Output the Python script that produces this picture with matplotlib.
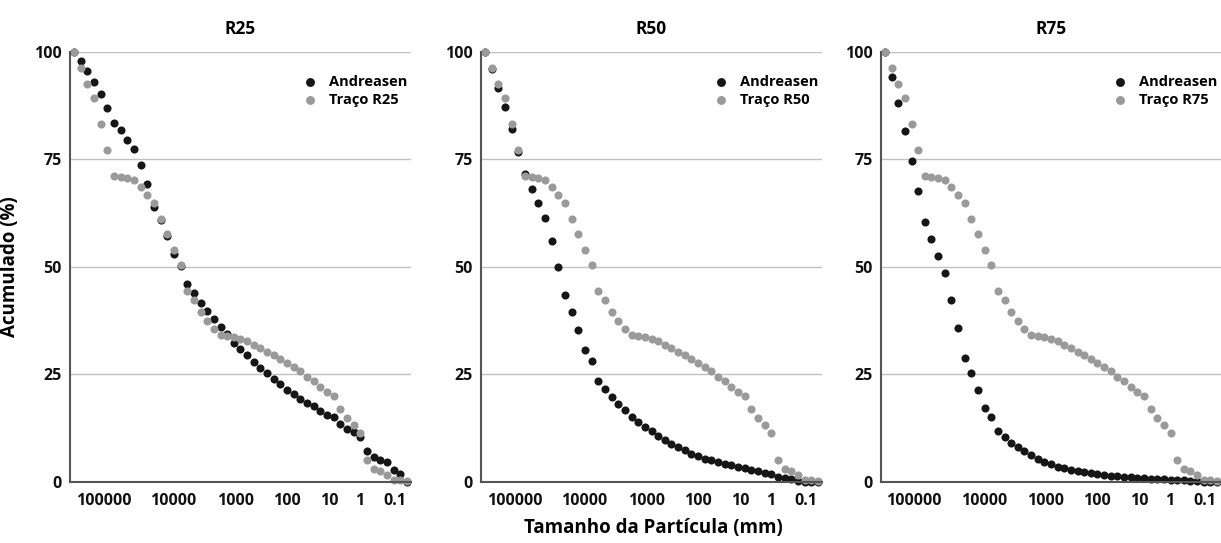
import matplotlib
matplotlib.use("Agg")
import matplotlib.pyplot as plt
import numpy as np

plt.rcParams['font.family'] = ['Open Sans', 'DejaVu Sans']
plt.rcParams['font.weight'] = 'bold'

# ---------------- data ----------------
panel_titles = ["R25", "R50", "R75"]
series_traco_labels = ["Traço R25", "Traço R50", "Traço R75"]
x_tick_labels = ["100000", "10000", "1000", "100", "10", "1", "0.1"]
y_ticks = [0, 25, 50, 75, 100]

andreasen_r25 = [100, 97.8, 95.5, 92.9, 90.2, 87.0, 83.5, 81.7, 79.5, 77.3,
                 73.6, 69.2, 63.9, 60.9, 57.2, 52.9, 50.3, 46.0, 43.9, 41.7,
                 39.8, 37.8, 36.0, 34.4, 32.4, 31.0, 29.4, 27.9, 26.6, 25.3,
                 23.9, 22.7, 21.4, 20.4, 19.3, 18.3, 17.6, 16.4, 15.6, 15.1,
                 13.5, 12.4, 11.6, 10.4, 7.1, 5.8, 5.2, 4.6, 2.9, 1.9, 0.0]

andreasen_r50 = [100, 95.9, 91.6, 87.1, 82.0, 76.7, 71.5, 68.0, 64.8, 61.3,
                 55.9, 50.0, 43.4, 39.6, 35.4, 30.7, 28.2, 23.4, 21.6, 19.7,
                 18.2, 16.8, 15.2, 13.9, 12.8, 11.8, 10.6, 9.7, 8.8, 8.1,
                 7.4, 6.6, 6.0, 5.4, 5.0, 4.6, 4.2, 3.9, 3.5, 3.3,
                 2.9, 2.6, 2.2, 1.9, 1.2, 0.9, 0.7, 0.15, 0.05, 0.0, 0.0]

andreasen_r75 = [100, 94.2, 88.0, 81.6, 74.7, 67.6, 60.4, 56.5, 52.6, 48.5,
                 42.3, 35.8, 28.8, 25.3, 21.3, 17.2, 15.2, 11.8, 10.4, 9.1,
                 8.1, 7.1, 6.2, 5.4, 4.6, 4.2, 3.6, 3.3, 2.9, 2.6,
                 2.3, 2.1, 1.9, 1.6, 1.5, 1.3, 1.2, 1.1, 0.9, 0.85,
                 0.8, 0.7, 0.6, 0.5, 0.45, 0.4, 0.3, 0.2, 0.1, 0.05, 0.0]

traco = [100, 96.1, 92.6, 89.2, 83.1, 77.2, 71.2, 70.9, 70.6, 70.2,
         68.5, 66.6, 64.8, 61.1, 57.6, 53.9, 50.5, 44.3, 42.2, 39.4,
         37.5, 35.6, 34.2, 34.0, 33.7, 33.2, 32.7, 31.9, 31.1, 30.3,
         29.6, 28.6, 27.6, 26.7, 25.7, 24.5, 23.5, 22.1, 20.9, 19.9,
         17.0, 14.9, 13.3, 11.4, 5.0, 3.1, 2.5, 1.7, 0.5, 0.4, 0.15]

andreasen_all = [andreasen_r25, andreasen_r50, andreasen_r75]

# ---------------- layout ----------------
W, H = 1221, 543
fig = plt.figure(figsize=(W / 100, H / 100), dpi=100)

axes_px = [(70, 341), (481, 341), (881, 340)]   # left, width in px
top_px, bot_px = 51.7, 482.0
tick_pos = [4.4, 14.9, 24.2, 31.9, 38.3, 42.9, 48.2]

black = "#161616"
gray = "#9a9a9a"

for k, (left, width) in enumerate(axes_px):
    ax = fig.add_axes([left / W, (H - bot_px) / H, width / W, (bot_px - top_px) / H])
    y_and = andreasen_all[k]
    xs = np.arange(len(y_and))
    ax.scatter(xs, y_and, s=34, color=black, linewidths=0, zorder=3,
               clip_on=False, label="Andreasen")
    ax.scatter(np.arange(len(traco)), traco, s=34, color=gray, linewidths=0,
               zorder=4, clip_on=False, label=series_traco_labels[k])
    ax.set_xlim(-0.6, 50.6)
    ax.set_ylim(0, 100)
    ax.set_yticks(y_ticks)
    ax.set_yticklabels([str(v) for v in y_ticks])
    ax.set_xticks(tick_pos)
    ax.set_xticklabels(x_tick_labels)
    ax.tick_params(axis='both', length=0, labelsize=11.5, colors="#111111")
    ax.tick_params(axis='x', pad=8)
    ax.tick_params(axis='y', pad=6)
    for lab in ax.get_xticklabels() + ax.get_yticklabels():
        lab.set_fontweight('bold')
    ax.grid(axis='y', color="#c0c0c0", linewidth=1.0, zorder=0)
    ax.set_axisbelow(True)
    for s in ['top', 'right']:
        ax.spines[s].set_visible(False)
    for s in ['left', 'bottom']:
        ax.spines[s].set_color("#555555")
        ax.spines[s].set_linewidth(1.5)
        ax.spines[s].set_zorder(5)
    ax.set_title(panel_titles[k], fontsize=12.5, fontweight='bold', pad=13)
    ax.legend(loc='upper right', frameon=False,
              prop={'weight': 'bold', 'size': 10.5},
              handletextpad=0.3, borderaxespad=0.3, labelspacing=0.3,
              markerscale=1.1, bbox_to_anchor=(1.02, 0.97))
    if k == 0:
        ax.set_ylabel("Acumulado (%)", fontsize=13.5, fontweight='bold')
        ax.yaxis.set_label_coords((20 - 70) / width, 0.5)

fig.text(653 / W, 1 - 528 / H, "Tamanho da Partícula (mm)", ha='center', va='center',
         fontsize=13.5, fontweight='bold')

fig.savefig("out.png", dpi=100, facecolor="white")
